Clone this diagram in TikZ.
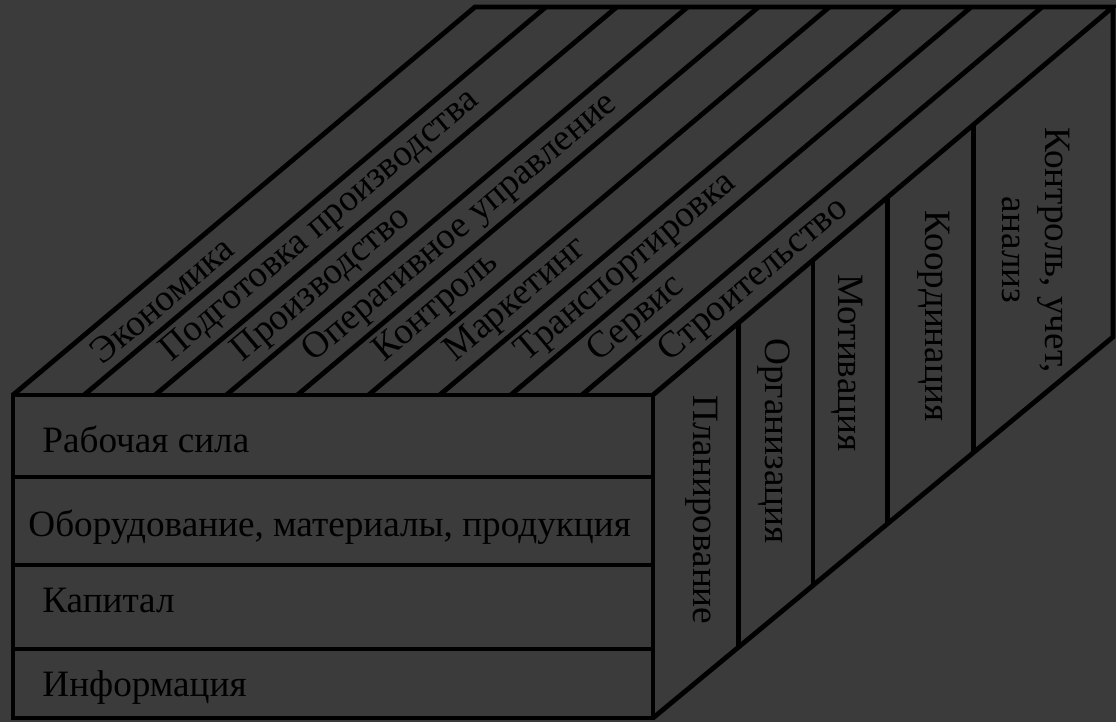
\documentclass[tikz,border=0pt]{standalone}
\usepackage{fontspec}
\setmainfont{Liberation Serif}
\usetikzlibrary{calc}
\definecolor{boxbg}{RGB}{59,59,59}

\begin{document}
\begin{tikzpicture}[
		x=0.5pt,
		y=0.5pt,
		every node/.style={font=\fontsize{18.6}{21.5}\selectfont, text=black, inner sep=0pt},
		edge line/.style={line width=2.4pt, draw=black, line join=miter}
		]
		
		% background, also fixes the page size
		\fill[boxbg] (0,0) rectangle (1116,722);
		\useasboundingbox (0,0) rectangle (1116,722);
		
		% corners of the box
		\coordinate (FBL) at (13,4);
		\coordinate (FTL) at (13,327);
		\coordinate (FTR) at (653,327);
		\coordinate (FBR) at (653,4);
		\coordinate (BTL) at (475,715);
		\coordinate (BTR) at (1113,715);
		\coordinate (BBR) at (1113,385);
		
		% front face, four resources
		\draw[edge line] (FBL) rectangle (FTR);
		\foreach \rowY in {73,157,245}
		\draw[edge line] (13,\rowY) -- (653,\rowY);
		
		% top face, nine functions
		\draw[edge line] (FTL) -- (BTL) -- (BTR) -- (FTR);
		\foreach \k in {1,...,8}
		\draw[edge line] ($(FTL)!\k/9!(FTR)$) -- ($(BTL)!\k/9!(BTR)$);
		
		% right face, five management stages
		\draw[edge line] (BTR) -- (BBR) -- (FBR);
		\foreach \f in {0.185,0.348,0.509,0.696}
		\draw[edge line] ($(FTR)!\f!(BTR)$) -- ($(FBR)!\f!(BBR)$);
		
		% labels on the front face
		\node[anchor=base west] (rowA) at (42,269) {Рабочая сила};
		\node[anchor=base west] (rowB) at (28,185) {Оборудование, материалы, продукция};
		\node[anchor=base west] (rowC) at (42,109) {Капитал};
		\node[anchor=base west] (rowD) at (42,25) {Информация};
		
		% labels on the top face, one per strip
		\foreach \lbl [count=\k from 0] in {Экономика, Подготовка производства, Производство, Оперативное управление, Контроль, Маркетинг, Транспортировка, Сервис, Строительство}{
			\pgfmathsetmacro\stripfrac{(\k+0.5)/9}
			\coordinate (sf) at ($(FTL)!\stripfrac!(FTR)$);
			\coordinate (sb) at ($(BTL)!\stripfrac!(BTR)$);
			\node[rotate=40, anchor=west] (top\k) at ($(sf)!0.1!(sb)$) {\lbl};
		}
		
		% labels on the right face
		\node[rotate=-90, anchor=base] (plan) at (693,212) {Планирование};
		\node[rotate=-90, anchor=base] (org) at (765,281) {Организация};
		\node[rotate=-90, anchor=base] (motiv) at (838,359) {Мотивация};
		\node[rotate=-90, anchor=base] (coord) at (925,406) {Координация};
		\node[rotate=-90, align=center] (ctrl) at (1036,472) {Контроль, учет,\\анализ};
		
	\end{tikzpicture}
\end{document}
